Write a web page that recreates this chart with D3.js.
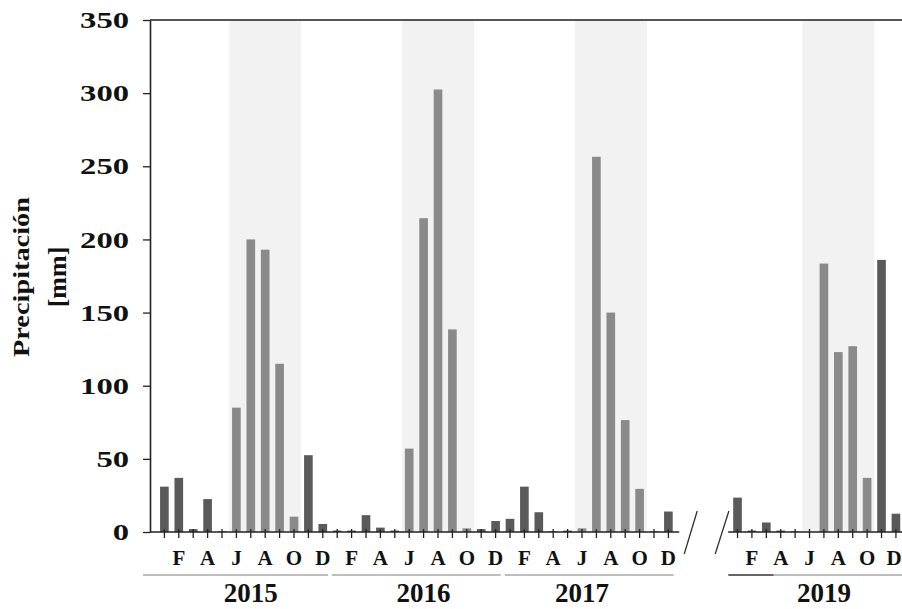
<!DOCTYPE html>
<html>
<head>
<meta charset="utf-8">
<script src="https://cdn.jsdelivr.net/npm/d3@7/dist/d3.min.js"></script>
<style>
  html, body { margin: 0; padding: 0; background: #fff; }
  svg { display: block; }
  text { font-family: "Liberation Serif", "Times New Roman", serif; font-weight: bold; fill: #111; }
</style>
</head>
<body>
<svg id="chart" width="902" height="609"></svg>
<script>
// ---- data ----
const years = ["2015", "2016", "2017", "2019"];
const monthLabels = ["", "F", "", "A", "", "J", "", "A", "", "O", "", "D"];
const precip2015 = [31, 37, 2, 22.5, 0.5, 85, 200, 193, 115, 10.5, 52.5, 5.5];
const precip2016 = [1, 1, 11.5, 3, 1, 57, 214.5, 302.5, 138.5, 2.5, 2, 7.5];
const precip2017 = [9, 31, 13.5, 0.5, 1, 2.5, 256.5, 150, 76.5, 29.5, 0.5, 14];
const precip2019 = [23.5, 1, 6.5, 1, 0.5, 0, 183.5, 123, 127, 37, 186, 12.5];
const series = [precip2015, precip2016, precip2017, precip2019];
const rainyMonths = [5, 6, 7, 8, 9];   // Jun–Oct (shaded season)
const yTicks = [0, 50, 100, 150, 200, 250, 300, 350];
const yTitle = ["Precipitación", "[mm]"];

// ---- layout ----
const W = 902, H = 609;
const axisX = 150, topY = 20, baseY = 532;
const slotW = 14.4;
const breakGap = 3.8;                 // empty slots for the axis break before 2019
const yearLabelShift = [0, 0, -1, 0]; // in slots

const svg = d3.select("#chart");
const x = d3.scaleLinear().domain([-1, 51]).range([axisX, axisX + slotW * 52]);
const y = d3.scaleLinear().domain([0, 350]).range([baseY, topY]);

const yearOffset = i => i * 12 + (i === 3 ? breakGap : 0);

const rows = [];
series.forEach((vals, i) => vals.forEach((v, m) => rows.push({ year: i, m, v, slot: yearOffset(i) + m })));

// shaded rainy season
svg.append("g").selectAll("rect").data(years).join("rect")
  .attr("x", (d, i) => x(yearOffset(i) + rainyMonths[0] - 0.5))
  .attr("width", (d, i) => x(yearOffset(i) + rainyMonths[rainyMonths.length - 1] + 0.5) - x(yearOffset(i) + rainyMonths[0] - 0.5))
  .attr("y", topY).attr("height", baseY - topY)
  .attr("fill", "#f2f2f2");

// bars
const bw = slotW * 0.6;
svg.append("g").selectAll("rect").data(rows).join("rect")
  .attr("x", d => x(d.slot) - bw / 2)
  .attr("width", bw)
  .attr("y", d => y(d.v))
  .attr("height", d => baseY - y(d.v))
  .attr("fill", d => rainyMonths.includes(d.m) ? "#8a8a8a" : "#5a5a5a");

// top border
svg.append("line").attr("x1", axisX).attr("x2", W).attr("y1", topY).attr("y2", topY)
  .attr("stroke", "#555").attr("stroke-width", 2);

// y axis
const yAxis = svg.append("g").attr("transform", `translate(${axisX},0)`)
  .call(d3.axisLeft(y).tickValues(yTicks).tickSize(7).tickSizeOuter(0).tickPadding(14));
yAxis.select(".domain").attr("stroke", "#222").attr("stroke-width", 1.6);
yAxis.selectAll(".tick line").attr("stroke", "#222").attr("stroke-width", 1.3);
yAxis.selectAll(".tick text")
  .attr("font-size", 24)
  .attr("font-family", "Liberation Serif, Times New Roman, serif")
  .attr("font-weight", "bold")
  .attr("fill", "#111")
  .attr("textLength", d => String(d).length * 16.3)
  .attr("lengthAdjust", "spacingAndGlyphs");

// x axis segments (with break)
const segs = [[x(-1), x(35.75)], [x(yearOffset(3) - 0.65), W]];
svg.append("g").selectAll("line").data(segs).join("line")
  .attr("x1", d => d[0]).attr("x2", d => d[1])
  .attr("y1", baseY).attr("y2", baseY)
  .attr("stroke", "#222").attr("stroke-width", 1.6);

// category ticks
svg.append("g").selectAll("line").data(rows).join("line")
  .attr("x1", d => x(d.slot)).attr("x2", d => x(d.slot))
  .attr("y1", baseY - 3).attr("y2", baseY + 6)
  .attr("stroke", "#222").attr("stroke-width", 1.3);

// break marks
const breaks = [[36.1, 37.0], [38.25, 39.2]];
svg.append("g").selectAll("line").data(breaks).join("line")
  .attr("x1", d => x(d[0])).attr("y1", baseY + 22)
  .attr("x2", d => x(d[1])).attr("y2", baseY - 21)
  .attr("stroke", "#333").attr("stroke-width", 1.3);

// month labels (the last one is kept inside the picture)
svg.append("g").selectAll("text").data(rows.filter(d => monthLabels[d.m])).join("text")
  .attr("x", d => Math.min(x(d.slot), W - 8))
  .attr("y", 565)
  .attr("text-anchor", "middle")
  .attr("font-size", 21)
  .text(d => monthLabels[d.m]);

// year underline
const yl = svg.append("g");
years.forEach((yr, i) => {
  const s0 = yearOffset(i), s1 = s0 + 11;
  const xa = i === 0 ? axisX - 7 : x(s0 - 0.5) + 2;
  const xb = i === 3 ? W : x(s1 + 0.5) - 2;
  yl.append("line").attr("x1", xa).attr("x2", xb).attr("y1", 575).attr("y2", 575)
    .attr("stroke", "#bdbdbd").attr("stroke-width", 2);
  if (i === 3) {
    yl.append("line").attr("x1", xa - 4).attr("x2", x(s0 + 2.5)).attr("y1", 575).attr("y2", 575)
      .attr("stroke", "#666").attr("stroke-width", 2);
  }
});

// year labels
svg.append("g").selectAll("text").data(years).join("text")
  .attr("x", (d, i) => x(yearOffset(i) + 6 + yearLabelShift[i]))
  .attr("y", 602)
  .attr("text-anchor", "middle")
  .attr("font-size", 27)
  .text(d => d);

// y title
const yt = svg.append("text").attr("transform", "translate(0,277) rotate(-90)").attr("text-anchor", "middle");
yt.append("tspan").attr("x", 0).attr("y", 29).attr("font-size", 24)
  .attr("textLength", 160).attr("lengthAdjust", "spacingAndGlyphs").text(yTitle[0]);
yt.append("tspan").attr("x", 0).attr("y", 66).attr("font-size", 26).text(yTitle[1]);
</script>
</body>
</html>
